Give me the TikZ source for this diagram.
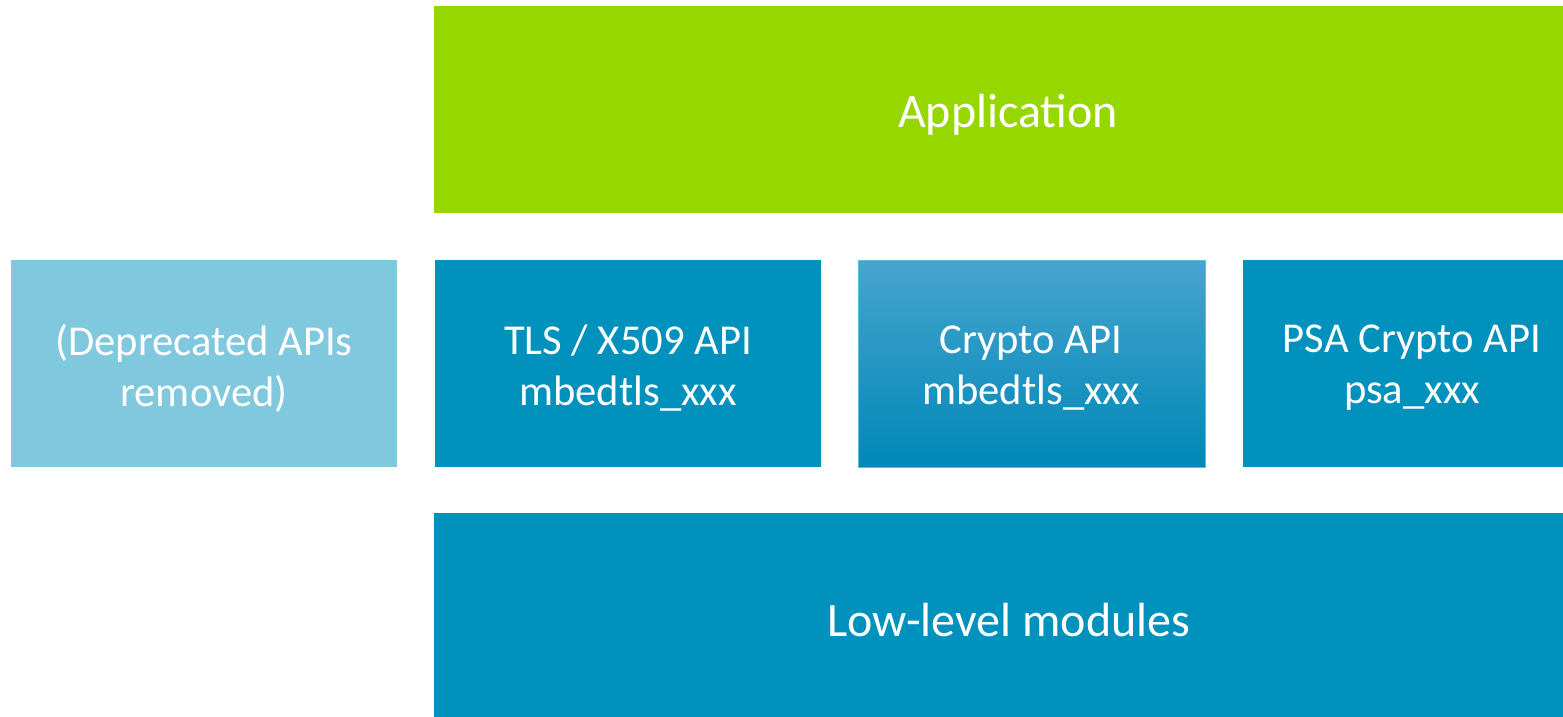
\documentclass[tikz,border=0pt]{standalone}
\usepackage{fontspec}
\setmainfont{Carlito}
\definecolor{appgreen}{HTML}{97D700}
\definecolor{apiblue}{HTML}{0091BD}
\definecolor{deplight}{HTML}{80C8DE}
\definecolor{gradtop}{HTML}{47A4CE}
\definecolor{gradmid}{HTML}{0599CA}
\definecolor{gradbot}{HTML}{0088B8}
\definecolor{gradedge}{HTML}{5DBFE0}
\tikzset{
  lbl/.style={text=white, align=center, font=\fontsize{21.3}{25.5}\selectfont, inner sep=0pt},
  biglbl/.style={lbl, font=\fontsize{24}{28}\selectfont},
}
\begin{document}
\begin{tikzpicture}[x=0.5pt,y=-0.5pt]
\useasboundingbox (0,0) rectangle (1563,717);
\fill[white] (0,0) rectangle (1563,717);
% boxes
\fill[appgreen] (434,6) rectangle (1563,213);
\fill[deplight] (11,260) rectangle (397,467);
\fill[apiblue] (435,260) rectangle (821,467);
\shade[top color=gradtop, middle color=gradmid, bottom color=gradbot, draw=gradedge, line width=0.5pt] (858,260) rectangle (1205,467);
\fill[apiblue] (1243,260) rectangle (1563,467);
\fill[apiblue] (434,513) rectangle (1563,717);
% labels
\node[biglbl] (app) at (1008,115) {Application};
\node[lbl] (dep) at (204,368) {(Deprecated APIs\\removed)};
\node[lbl] (tls) at (628,368) {TLS / X509 API\\mbedtls\_xxx};
\node[lbl] (crypto) at (1031,368) {Crypto API\\mbedtls\_xxx};
\node[lbl] (psa) at (1412,368) {PSA Crypto API\\psa\_xxx};
\node[biglbl] (low) at (1009,620) {Low-level modules};
\end{tikzpicture}
\end{document}
